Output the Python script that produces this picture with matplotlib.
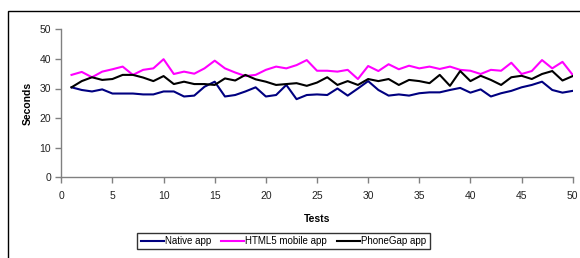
import matplotlib
matplotlib.use("Agg")
import matplotlib.pyplot as plt
from matplotlib.patches import Rectangle

tests = list(range(1, 51))
native = [30.4, 29.5, 29.0, 29.7, 28.3, 28.3, 28.3, 28.0, 28.0, 29.0,
          29.0, 27.3, 27.6, 30.6, 32.3, 27.3, 27.8, 29.0, 30.4, 27.3,
          27.8, 31.2, 26.4, 27.8, 28.0, 27.8, 30.0, 27.6, 30.0, 32.5,
          29.5, 27.6, 28.0, 27.6, 28.4, 28.7, 28.7, 29.5, 30.2, 28.6,
          29.7, 27.3, 28.4, 29.2, 30.4, 31.2, 32.3, 29.5, 28.6, 29.2]
html5 = [34.6, 35.6, 33.8, 35.7, 36.5, 37.4, 34.6, 36.3, 36.8, 39.9,
         34.9, 35.7, 35.0, 36.8, 39.4, 36.8, 35.4, 34.2, 34.6, 36.3,
         37.4, 36.8, 37.9, 39.6, 36.0, 36.0, 35.7, 36.3, 33.2, 37.6,
         35.9, 38.2, 36.5, 37.7, 36.8, 37.4, 36.6, 37.4, 36.3, 36.0,
         34.9, 36.3, 36.0, 38.7, 34.9, 35.9, 39.6, 36.8, 39.0, 34.6]
phonegap = [30.4, 32.5, 33.8, 32.9, 33.2, 34.6, 34.6, 33.7, 32.5, 34.2,
            31.5, 32.3, 31.5, 31.5, 31.2, 33.4, 32.7, 34.6, 33.1, 32.3,
            31.2, 31.5, 31.8, 30.9, 32.0, 33.8, 31.2, 32.5, 31.2, 33.2,
            32.5, 33.2, 31.2, 32.9, 32.5, 31.8, 34.6, 30.9, 35.9, 32.5,
            34.3, 32.9, 31.2, 33.8, 34.3, 33.2, 34.9, 35.9, 32.7, 34.2]
series_names = ["Native app", "HTML5 mobile app", "PhoneGap app"]
x_ticks = list(range(0, 51, 5))
y_ticks = list(range(0, 51, 10))

plt.rcParams['font.family'] = ['Liberation Sans', 'DejaVu Sans']

W, H = 580, 258
fig = plt.figure(figsize=(W / 100, H / 100), dpi=100)
ax = fig.add_axes([61.3 / W, 1 - 177.3 / H, (572.7 - 61.3) / W, (177.3 - 29.3) / H])

colors = ["#000080", "#FF00FF", "#000000"]
for data, name, c in zip([native, html5, phonegap], series_names, colors):
    ax.plot(tests, data, color=c, lw=1.5, label=name, solid_joinstyle='round')

ax.set_xlim(0, 50)
ax.set_ylim(0, 50)
ax.set_xticks(x_ticks)
ax.set_yticks(y_ticks)
for s in ["top", "right"]:
    ax.spines[s].set_visible(False)
for s in ["left", "bottom"]:
    ax.spines[s].set_color("#808080")
    ax.spines[s].set_linewidth(1.0)
ax.tick_params(axis='both', colors="#808080", labelcolor="#222222", labelsize=7.5,
               length=4, width=1.0, direction='out')
ax.tick_params(axis='x', pad=6)
ax.set_xlabel("Tests", fontsize=7.5, fontweight='bold', labelpad=9)
ax.set_ylabel("Seconds", fontsize=7.5, fontweight='bold', labelpad=5)

leg = fig.legend(loc='center', bbox_to_anchor=(283.5 / W, 1 - 241 / H), ncol=3,
                 fontsize=7.0, frameon=True, fancybox=False, handlelength=2.4,
                 handletextpad=0.1, columnspacing=1.0, borderpad=0.35,
                 borderaxespad=0)
leg.get_frame().set_edgecolor("black")
leg.get_frame().set_linewidth(1.0)

fig.patches.append(Rectangle((8 / W, -0.2), 1.5, 1 - 11 / H + 0.2,
                             transform=fig.transFigure, fill=False,
                             edgecolor="black", lw=1.0))

fig.savefig("out.png", dpi=100)
